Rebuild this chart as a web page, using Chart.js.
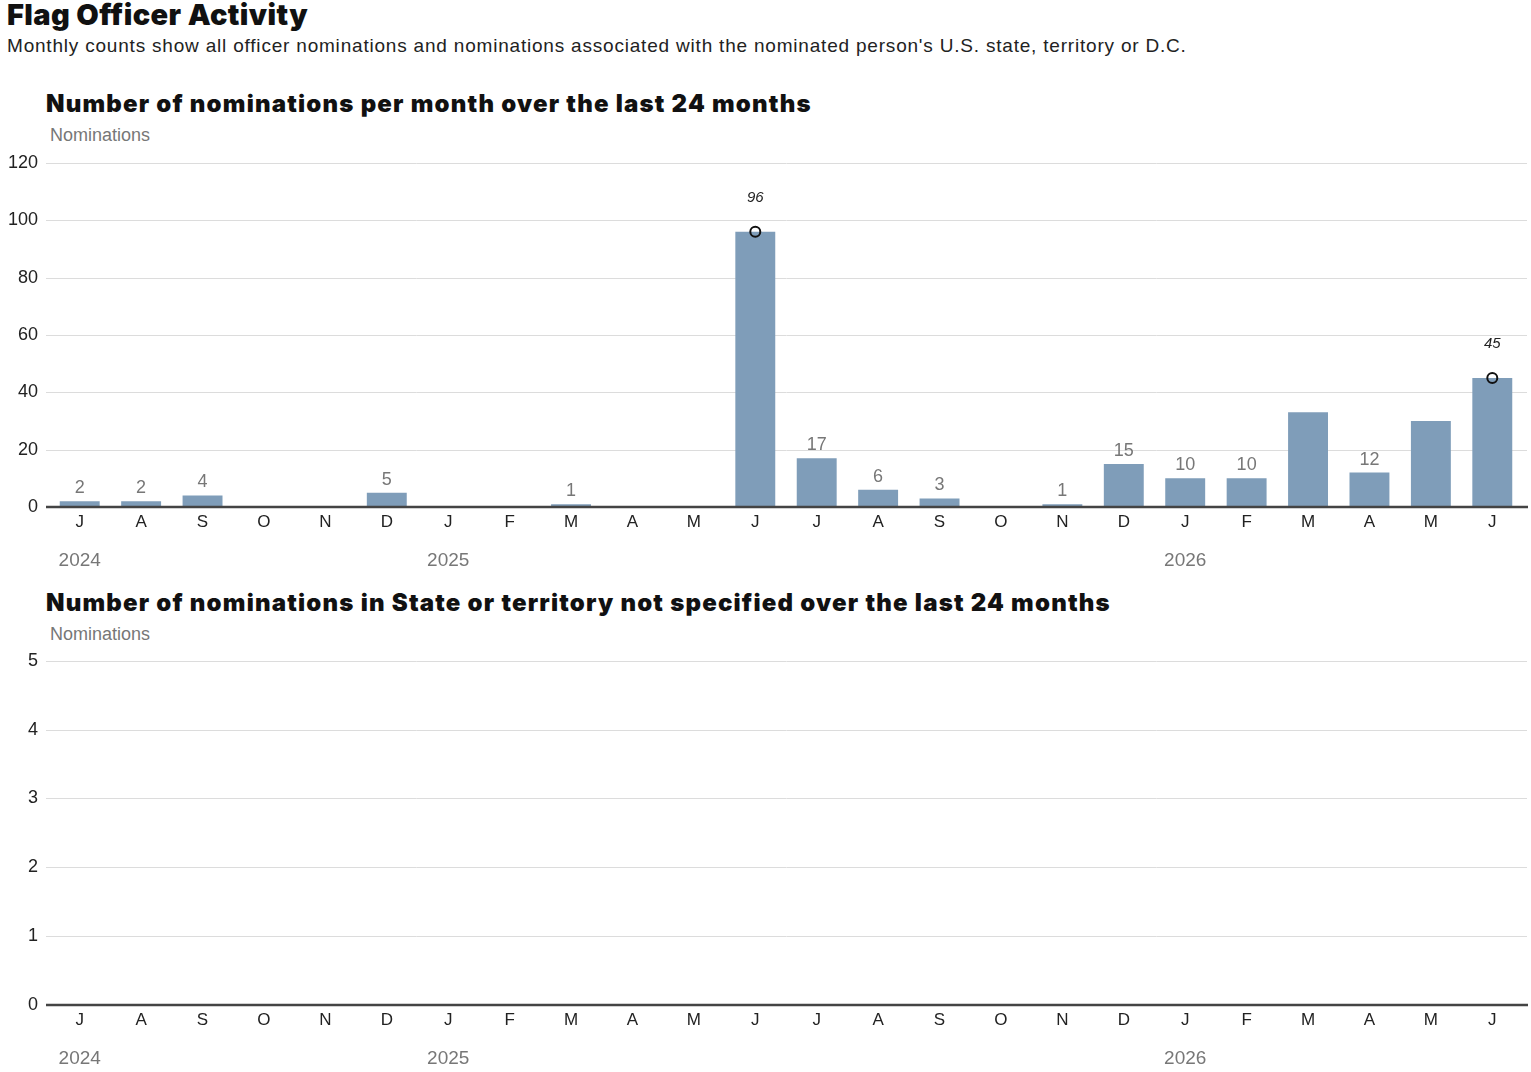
<!DOCTYPE html>
<html>
<head>
<meta charset="utf-8">
<script src="https://cdn.jsdelivr.net/npm/chart.js@4.4.1/dist/chart.umd.min.js"></script>
<style>
  body { margin:0; background:#fff; width:1531px; height:1072px; overflow:hidden; position:relative; font-family:"Liberation Sans", Arial, sans-serif; }
  .txt { position:absolute; white-space:nowrap; line-height:1; }
  .title { left:7px; top:-3px; font:900 29px Inter, "Liberation Sans", sans-serif; color:#111; letter-spacing:0.4px; }
  .sub { left:7px; top:36px; font-size:19px; color:#222; letter-spacing:0.8px; }
  .sect { left:46px; font:900 24px Inter, "Liberation Sans", sans-serif; color:#111; letter-spacing:1.2px; }
  .ylab { left:50px; font-size:18px; color:#777; }
  .box { position:absolute; left:0; width:1531px; height:439px; }
</style>
</head>
<body>
<div class="txt title">Flag Officer Activity</div>
<div class="txt sub">Monthly counts show all officer nominations and nominations associated with the nominated person's U.S. state, territory or D.C.</div>

<div class="txt sect" style="top:89px">Number of nominations per month over the last 24 months</div>
<div class="txt ylab" style="top:126px">Nominations</div>
<div class="box" style="top:141px"><canvas id="c1" width="1531" height="439"></canvas></div>

<div class="txt sect" style="top:588px">Number of nominations in State or territory not specified over the last 24 months</div>
<div class="txt ylab" style="top:625px">Nominations</div>
<div class="box" style="top:639px"><canvas id="c2" width="1531" height="439"></canvas></div>

<script>
// Jul 2024 - Jun 2026
const months = ['J','A','S','O','N','D','J','F','M','A','M','J','J','A','S','O','N','D','J','F','M','A','M','J'];
const years = ['2024', '2025', '2026'];
const yearStart = [0, 6, 18];

// all nominations
const allNoms = [2, 2, 4, 0, 0, 5, 0, 0, 1, 0, 0, 96, 17, 6, 3, 0, 1, 15, 10, 10, 33, 12, 30, 45];
// numbers printed over the bars (null = no label)
const allLabels = [2, 2, 4, null, null, 5, null, null, 1, null, null, null, 17, 6, 3, null, 1, 15, 10, 10, null, 12, null, null];
// circled values
const allMarkers = [null, null, null, null, null, null, null, null, null, null, null, 96, null, null, null, null, null, null, null, null, null, null, null, 45];

// state or territory not specified
const unspecNoms = [0, 0, 0, 0, 0, 0, 0, 0, 0, 0, 0, 0, 0, 0, 0, 0, 0, 0, 0, 0, 0, 0, 0, 0];
const unspecLabels = months.map(() => null);
const unspecMarkers = months.map(() => null);

const BAR = '#7f9db9';

const extras = {
  id: 'extras',
  beforeDatasetsDraw(chart) {
    const { ctx, scales } = chart;
    ctx.save();
    ctx.strokeStyle = '#dcdcdc';
    ctx.lineWidth = 1;
    scales.y.ticks.forEach(t => {
      if (t.value === 0) return;
      const y = Math.round(scales.y.getPixelForValue(t.value)) + 0.5;
      ctx.beginPath(); ctx.moveTo(46, y); ctx.lineTo(1527, y); ctx.stroke();
    });
    ctx.restore();
  },
  afterDatasetsDraw(chart, args, opts) {
    const { ctx, chartArea, scales } = chart;
    ctx.save();
    // zero line
    const y0 = scales.y.getPixelForValue(0);
    ctx.strokeStyle = '#444';
    ctx.lineWidth = 2.5;
    ctx.beginPath(); ctx.moveTo(46, y0); ctx.lineTo(1528, y0); ctx.stroke();

    ctx.textAlign = 'center';
    ctx.textBaseline = 'middle';
    // bar value labels
    ctx.fillStyle = '#777';
    ctx.font = '18px "Liberation Sans", Arial, sans-serif';
    opts.labels.forEach((v, i) => {
      if (v === null) return;
      const x = scales.x.getPixelForValue(i);
      const y = scales.y.getPixelForValue(opts.values[i]);
      ctx.fillText(String(v), x, y - 13);
    });
    // marker labels
    ctx.fillStyle = '#222';
    ctx.font = 'italic 15px "Liberation Sans Narrow", "Liberation Sans", sans-serif';
    opts.markers.forEach((v, i) => {
      if (v === null) return;
      const x = scales.x.getPixelForValue(i);
      const y = scales.y.getPixelForValue(v);
      ctx.fillText(String(v), x, y - 34);
    });
    // year labels
    ctx.fillStyle = '#777';
    ctx.font = '19px "Liberation Sans", Arial, sans-serif';
    years.forEach((yr, k) => {
      const x = scales.x.getPixelForValue(yearStart[k]);
      ctx.fillText(yr, x, chartArea.bottom + 54);
    });
    ctx.restore();
  }
};

function makeChart(id, values, labels, markers, yMax, yStep) {
  return new Chart(document.getElementById(id), {
    data: {
      labels: months,
      datasets: [
        {
          type: 'line', data: markers, showLine: false, order: 1,
          pointRadius: 5, pointBorderWidth: 2, pointBorderColor: '#111',
          pointBackgroundColor: 'rgba(0,0,0,0)'
        },
        {
          type: 'bar', data: values, order: 2, backgroundColor: BAR,
          barPercentage: 0.65, categoryPercentage: 1
        }
      ]
    },
    options: {
      responsive: false,
      animation: false,
      layout: { padding: { top: 4, right: 8, left: 0, bottom: 0 } },
      plugins: {
        legend: { display: false },
        tooltip: { enabled: false },
        extras: { values: values, labels: labels, markers: markers }
      },
      scales: {
        x: {
          grid: { display: false, drawTicks: false, tickLength: 0 },
          border: { display: false },
          ticks: { color: '#222', font: { size: 17 }, padding: 5, maxRotation: 0, autoSkip: false },
          afterFit(s) { s.height = 73; }
        },
        y: {
          min: 0, max: yMax,
          grid: { display: false, drawTicks: false, tickLength: 0 },
          border: { display: false },
          ticks: { stepSize: yStep, color: '#222', font: { size: 18 }, padding: 11 },
          afterFit(s) { s.width = 49; }
        }
      }
    },
    plugins: [extras]
  });
}

makeChart('c1', allNoms, allLabels, allMarkers, 120, 20);
makeChart('c2', unspecNoms, unspecLabels, unspecMarkers, 5, 1);
</script>
</body>
</html>
